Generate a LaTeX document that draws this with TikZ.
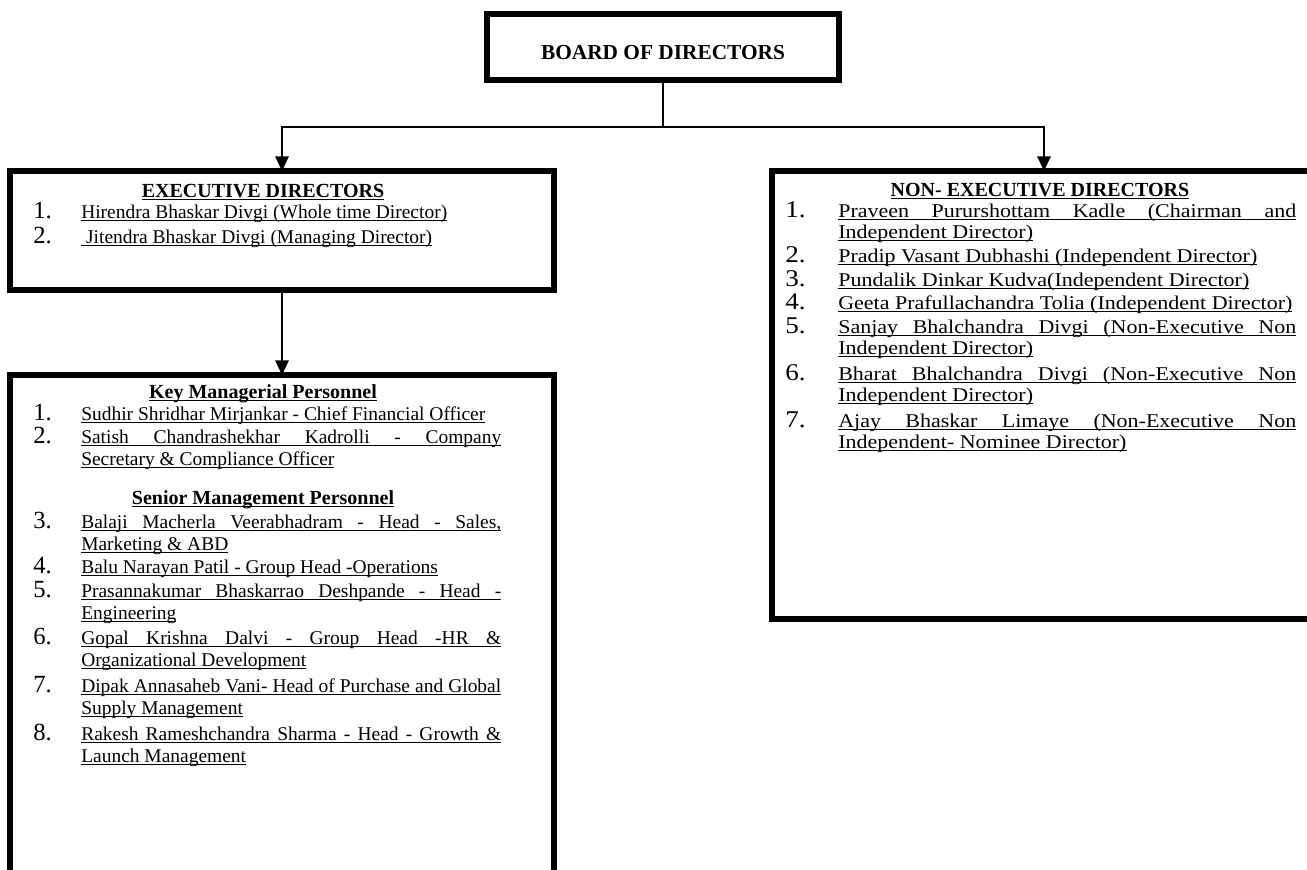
\documentclass[tikz,border=0pt]{standalone}
\usepackage{fontspec}
\setmainfont{Liberation Serif}
\newfontfamily\rfam{Liberation Serif}[FakeStretch=1.13]
\usetikzlibrary{arrows.meta}
\newlength\px \setlength\px{0.75pt}
\newcommand\ulx[1]{\leavevmode\setbox0\hbox{#1}\rlap{\rule[-3.4\px]{\wd0}{1.3\px}}\box0}
\newcommand\lf{\fontsize{14.6}{16.5}\selectfont}
\newcommand\lnf{\fontsize{18.5}{16.5}\selectfont}
\newcommand\rf{\rfam\fontsize{14.6}{15.75}\selectfont}
\newcommand\rnf{\rfam\fontsize{18}{15.75}\selectfont}
\newcommand\lnum[1]{\makebox[48\px][l]{\lnf #1}}
\newcommand\rnum[1]{\makebox[53\px][l]{\rnf #1}}
\newcommand\lj[1]{\ulx{\makebox[420\px][s]{#1}}}
\newcommand\rj[1]{\ulx{\makebox[458\px][s]{#1}}}
\newcommand\lpar[2]{\parbox[t]{420\px}{\lf\noindent\lj{#1}\\\ulx{#2}}}
\newcommand\rpar[2]{\parbox[t]{458\px}{\rf\noindent\rj{#1}\\\ulx{#2}}}
\tikzset{
  box/.style={draw, rectangle, line width=4.5pt, inner sep=0pt, outer sep=0pt},
  conn/.style={line width=1.5pt},
  arr/.style={conn, -{Triangle[width=10pt,length=11pt]}},
  litem/.style={anchor=base west, inner sep=0pt, font=\lf},
  ritem/.style={anchor=base west, inner sep=0pt, font=\rf},
  ttl/.style={anchor=base, inner sep=0pt, font=\bfseries\fontsize{15}{18}\selectfont},
}
\begin{document}
\begin{tikzpicture}[x=0.75pt,y=-0.75pt]
\useasboundingbox (0,0) rectangle (1307,869);
\clip (0,0) rectangle (1307,869);
% boxes
\node[box, minimum width=352\px, minimum height=66\px] (board) at (663,47) {};
\node[ttl, font=\bfseries\fontsize{16}{18}\selectfont] (boardt) at (663,59) {BOARD OF DIRECTORS};
\node[box, minimum width=544\px, minimum height=119\px] (exec) at (282,230.5) {};
\node[box, minimum width=544\px, minimum height=530\px] (kmp) at (282,640) {};
\node[box, minimum width=544\px, minimum height=448\px] (nonexec) at (1044,395) {};
% connectors
\coordinate (jn) at (663,127);
\draw[conn] (board.south) -- (jn);
\draw[arr] (jn) -| (exec.north);
\draw[arr] (jn) -| (nonexec.north);
\draw[arr] (exec.south) -- (kmp.north);
% executive directors
\node[ttl] (exect) at (263,197) {\ulx{EXECUTIVE DIRECTORS}};
\node[litem] (e1) at (33,218) {\lnum{1.}\ulx{Hirendra Bhaskar Divgi (Whole time Director)}};
\node[litem] (e2) at (33,243) {\lnum{2.}\ulx{\ Jitendra Bhaskar Divgi (Managing Director)}};
% key managerial personnel
\node[ttl] (kmpt) at (263,398) {\ulx{Key Managerial Personnel}};
\node[litem] (k1) at (33,420) {\lnum{1.}\ulx{Sudhir Shridhar Mirjankar - Chief Financial Officer}};
\node[litem] (k2) at (33,443) {\lnum{2.}\lpar{Satish Chandrashekhar Kadrolli - Company}{Secretary \& Compliance Officer}};
\node[ttl] (smpt) at (263,504) {\ulx{Senior Management Personnel}};
\node[litem] (k3) at (33,528) {\lnum{3.}\lpar{Balaji Macherla Veerabhadram - Head - Sales,}{Marketing \& ABD}};
\node[litem] (k4) at (33,573) {\lnum{4.}\ulx{Balu Narayan Patil - Group Head -Operations}};
\node[litem] (k5) at (33,597) {\lnum{5.}\lpar{Prasannakumar Bhaskarrao Deshpande - Head -}{Engineering}};
\node[litem] (k6) at (33,644) {\lnum{6.}\lpar{Gopal Krishna Dalvi - Group Head -HR \&}{Organizational Development}};
\node[litem] (k7) at (33,692) {\lnum{7.}\lpar{Dipak Annasaheb Vani- Head of Purchase and Global}{Supply Management}};
\node[litem] (k8) at (33,740) {\lnum{8.}\lpar{Rakesh Rameshchandra Sharma - Head - Growth \&}{Launch Management}};
% non-executive directors
\node[ttl] (nont) at (1040,196) {\ulx{NON- EXECUTIVE DIRECTORS}};
\node[ritem] (n1) at (785,217) {\rnum{1.}\rpar{Praveen Pururshottam Kadle (Chairman and}{Independent Director)}};
\node[ritem] (n2) at (785,262) {\rnum{2.}\ulx{Pradip Vasant Dubhashi (Independent Director)}};
\node[ritem] (n3) at (785,286) {\rnum{3.}\ulx{Pundalik Dinkar Kudva(Independent Director)}};
\node[ritem] (n4) at (785,309) {\rnum{4.}\ulx{Geeta Prafullachandra Tolia (Independent Director)}};
\node[ritem] (n5) at (785,333) {\rnum{5.}\rpar{Sanjay Bhalchandra Divgi (Non-Executive Non}{Independent Director)}};
\node[ritem] (n6) at (785,380) {\rnum{6.}\rpar{Bharat Bhalchandra Divgi (Non-Executive Non}{Independent Director)}};
\node[ritem] (n7) at (785,427) {\rnum{7.}\rpar{Ajay Bhaskar Limaye (Non-Executive Non}{Independent- Nominee Director)}};
\end{tikzpicture}
\end{document}
